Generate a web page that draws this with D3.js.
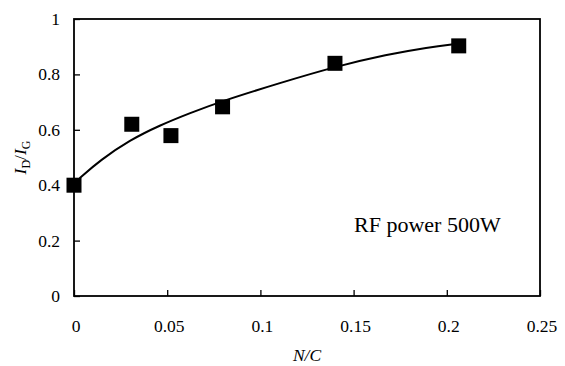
<!DOCTYPE html>
<html>
<head>
<meta charset="utf-8">
<script src="https://cdn.jsdelivr.net/npm/d3@7"></script>
<style>
  body { margin: 0; background: #fff; }
</style>
</head>
<body>
<div id="chart"></div>
<script>
// measured points
const nc = [0, 0.031, 0.052, 0.0797, 0.140, 0.2064];
const idig = [0.40, 0.62, 0.579, 0.683, 0.840, 0.903];

// fitted curve
const fitX = [0.003, 0.014, 0.030, 0.046, 0.062, 0.080, 0.110, 0.140, 0.168, 0.190, 0.205];
const fitY = [0.425, 0.490, 0.563, 0.616, 0.660, 0.705, 0.768, 0.828, 0.872, 0.898, 0.910];

const xTicks = [0, 0.05, 0.1, 0.15, 0.2, 0.25];
const yTicks = [0, 0.2, 0.4, 0.6, 0.8, 1];

const width = 565, height = 366;
const margin = {top: 19, right: 25, bottom: 70, left: 74};
const serif = "'Liberation Serif', 'Times New Roman', Times, 'DejaVu Serif', serif";

const svg = d3.select("#chart").append("svg")
  .attr("width", width)
  .attr("height", height)
  .attr("font-family", serif)
  .style("font-family", serif);

const x = d3.scaleLinear().domain([0, 0.25]).range([margin.left, width - margin.right]);
const y = d3.scaleLinear().domain([0, 1]).range([height - margin.bottom, margin.top]);

// inward ticks, labels drawn separately
const xAxis = svg.append("g")
  .attr("transform", `translate(0,${y(0)})`)
  .call(d3.axisBottom(x).tickValues(xTicks).tickSize(-6).tickFormat(""));
const yAxis = svg.append("g")
  .attr("transform", `translate(${x(0)},0)`)
  .call(d3.axisLeft(y).tickValues(yTicks).tickSize(-6).tickFormat(""));
[xAxis, yAxis].forEach(a => {
  a.select(".domain").remove();
  a.selectAll(".tick line").attr("stroke", "#000").attr("stroke-width", 1.3);
});

svg.append("rect")
  .attr("x", x(0)).attr("y", y(1))
  .attr("width", x(0.25) - x(0)).attr("height", y(0) - y(1))
  .attr("fill", "none").attr("stroke", "#000").attr("stroke-width", 1.8);

svg.append("g").selectAll("text")
  .data(xTicks).join("text")
  .attr("x", d => x(d) + 2)
  .attr("y", 332)
  .attr("text-anchor", "middle")
  .attr("font-size", 17.5)
  .text(d => d);

svg.append("g").selectAll("text")
  .data(yTicks).join("text")
  .attr("x", 60)
  .attr("y", d => y(d) + 6)
  .attr("text-anchor", "end")
  .attr("font-size", 17.5)
  .text(d => d);

// curve
const line = d3.line()
  .x(d => x(d[0]))
  .y(d => y(d[1]))
  .curve(d3.curveBasis);
svg.append("path")
  .datum(d3.zip(fitX, fitY))
  .attr("d", line)
  .attr("fill", "none")
  .attr("stroke", "#000")
  .attr("stroke-width", 2);

// square markers
const s = 15;
svg.append("g").selectAll("rect")
  .data(d3.zip(nc, idig)).join("rect")
  .attr("x", d => x(d[0]) - s / 2)
  .attr("y", d => y(d[1]) - s / 2)
  .attr("width", s).attr("height", s)
  .attr("fill", "#000");

svg.append("text")
  .attr("x", 354).attr("y", 232)
  .attr("font-size", 22)
  .text("RF power 500W");

// axis titles
svg.append("text")
  .attr("x", (x(0) + x(0.25)) / 2)
  .attr("y", 361)
  .attr("text-anchor", "middle")
  .attr("font-size", 17.5)
  .attr("font-style", "italic")
  .text("N/C");

const yl = svg.append("text")
  .attr("transform", `translate(26,${(y(0) + y(1)) / 2}) rotate(-90)`)
  .attr("text-anchor", "middle")
  .attr("font-size", 17.5);
yl.append("tspan").attr("font-style", "italic").text("I");
yl.append("tspan").attr("font-size", 12).attr("dy", 4).text("D");
yl.append("tspan").attr("dy", -4).text("/");
yl.append("tspan").attr("font-style", "italic").text("I");
yl.append("tspan").attr("font-size", 12).attr("dy", 4).text("G");
</script>
</body>
</html>
